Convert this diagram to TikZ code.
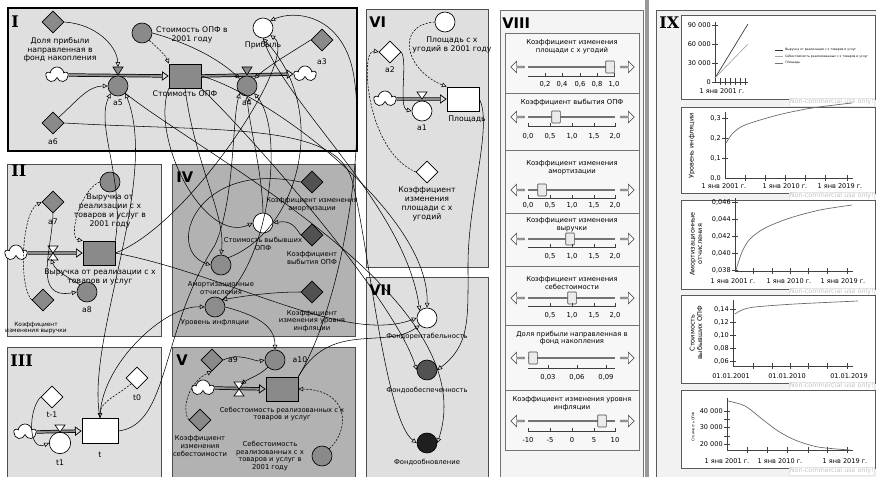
\documentclass[tikz,border=0pt]{standalone}
\usepackage{fontspec}
\setmainfont{DejaVu Sans}
\newfontfamily\romfont{DejaVu Serif}
\usetikzlibrary{arrows.meta,shapes.geometric,shapes.symbols,shapes.arrows}

\definecolor{panelbg}{RGB}{223,223,223}
\definecolor{paneldk}{RGB}{178,178,178}
\definecolor{auxgray}{RGB}{138,138,138}
\definecolor{auxdark}{RGB}{82,82,82}
\definecolor{ctrlbg}{RGB}{244,244,244}
\definecolor{wmark}{RGB}{195,195,195}

\tikzset{every picture/.style={line width=0.5pt}}
\tikzset{
  panel/.style={draw=black!70, fill=panelbg},
  numeral/.style={anchor=west, inner sep=0pt, font=\fontsize{11}{11}\selectfont\bfseries},
  romnum/.style={anchor=west, inner sep=0pt, font=\romfont\fontsize{12}{12}\selectfont\bfseries},
  txt/.style={font=\fontsize{5.8}{6.6}\selectfont, align=center, inner sep=0pt},
  txs/.style={font=\fontsize{5.1}{5.8}\selectfont, align=center, inner sep=0pt},
  tny/.style={font=\fontsize{4.4}{5}\selectfont, align=center, inner sep=0pt},
  axl/.style={font=\fontsize{4.9}{5.5}\selectfont, align=center, inner sep=0pt},
  auxv/.style={circle, draw, fill=auxgray, minimum size=15pt, inner sep=0pt},
  param/.style={diamond, draw, fill=auxgray, minimum size=16.5pt, inner sep=0pt},
  stock/.style={rectangle, draw, fill=auxgray, minimum width=24pt, minimum height=18pt, inner sep=0pt},
  srccloud/.style={cloud, cloud puffs=5, cloud puff arc=165, aspect=1.4, draw, fill=white, minimum width=16pt, minimum height=12pt, inner sep=0pt},
  pipe/.style={double=black!45, double distance=1.4pt, line width=0.55pt, -{Triangle[open,length=5pt,width=7pt]}},
  link/.style={-{Triangle[open,length=3.6pt,width=3.4pt]}, line width=0.4pt},
  dlink/.style={link, dash pattern={on 1.6pt off 1pt}},
  track/.style={line width=1.3pt, black!55},
  thumb/.style={draw=black!70, fill=black!8, minimum width=6.5pt, minimum height=9pt, inner sep=0pt, rounded corners=0.6pt},
  larr/.style={single arrow, draw=black!65, fill=white, minimum height=10pt, minimum width=8.5pt, single arrow head extend=1.6pt, inner sep=0pt, shape border rotate=180},
  rarr/.style={single arrow, draw=black!65, fill=white, minimum height=10pt, minimum width=8.5pt, single arrow head extend=1.6pt, inner sep=0pt},
  chartbox/.style={draw=black!65, fill=white},
  plotline/.style={line width=0.5pt, black!60},
  wm/.style={font=\fontsize{4.8}{5}\selectfont, text=wmark, fill=white, draw=black!10, inner sep=0.7pt, anchor=east}
}

\begin{document}
\begin{tikzpicture}[x=0.75pt,y=0.75pt,yscale=-1,xscale=1]
\useasboundingbox (0,0) rectangle (876,477);
\fill[white] (0,0) rectangle (876,477);

%Panels
\draw[panel, draw=black, line width=1pt] (8,8) rectangle (357,151);
\draw[panel] (7,164) rectangle (161,336);
\draw[panel] (7,347) rectangle (161,482);
\draw[panel, fill=paneldk] (172,164) rectangle (355,336);
\draw[panel, fill=paneldk] (172,347) rectangle (355,482);
\draw[panel] (366,9) rectangle (488,267);
\draw[panel] (366,277) rectangle (488,482);
\draw[draw=black!55, fill=ctrlbg] (500,10) rectangle (643,482);
\fill[black!40] (645,0) rectangle (649,477);
\draw[draw=black!65, fill=black!5] (656,10) rectangle (880,482);

\node[romnum] (nI) at (11,22) {I};
\node[romnum] (nII) at (11,171) {II};
\node[romnum] (nIII) at (10,361) {III};
\node[numeral] (nIV) at (176,177) {IV};
\node[numeral] (nV) at (176,360) {V};
\node[numeral] (nVI) at (369,22) {VI};
\node[numeral] (nVII) at (369,290) {VII};
\node[numeral] (nVIII) at (502,23) {VIII};
\node[romnum] (nIX) at (659,23) {IX};

%Panel I
\node[param] (dolya) at (53,22) {};
\node[txt] (dolyaT) at (60,50) {Доля прибыли\\направленная в\\фонд накопления};
\node[auxv] (opf01) at (142,33) {};
\node[txt] (opf01T) at (192,35) {Стоимость ОПФ в\\2001 году};
\node[auxv, fill=white] (profit) at (263,28) {};
\node[txt] (profitT) at (263,45) {Прибыль};
\node[param] (a3) at (322,40) {};
\node[txt] (a3T) at (322,62) {a3};
\node[srccloud] (cloudA) at (57,75) {};
\node[stock] (opf) at (185,76) {};
\node[txt] (opfT) at (185,94) {Стоимость ОПФ};
\node[srccloud] (cloudB) at (305,74) {};
\draw[pipe] (cloudA.east) -- (opf.west);
\draw[pipe] (opf.east) -- (cloudB.west);
\draw[fill=auxgray] (113,67) -- (123,67) -- (118,75) -- cycle;
\draw[fill=auxgray] (242,67) -- (252,67) -- (247,75) -- cycle;
\coordinate (v5) at (118,67);
\node[auxv] (a5) at (118,86) {};
\node[txt] (a5T) at (118,103) {a5};
\node[auxv] (a4) at (247,86) {};
\node[txt] (a4T) at (247,103) {a4};
\node[param] (a6) at (53,123) {};
\node[txt] (a6T) at (53,142) {a6};

%Panel II
\node[auxv] (vyr01) at (110,182) {};
\node[txt] (vyr01T) at (110,211) {Выручка от\\реализации с х\\товаров и услуг в\\2001 году};
\node[param] (a7) at (53,202) {};
\node[txt] (a7T) at (53,222) {a7};
\node[srccloud] (cloudE) at (16,253) {};
\node[stock] (vyr) at (99,253) {};
\draw[pipe] (cloudE.east) -- (vyr.west);
\draw[fill=white] (48,246) -- (58,246) -- (48,260) -- (58,260) -- cycle;
\coordinate (v2) at (51,259);
\node[txt] (vyrT) at (100,277) {Выручка от реализации с х\\товаров и услуг};
\node[auxv] (a8) at (87,292) {};
\node[txt] (a8T) at (87,310) {a8};
\node[param] (coefv) at (43,300) {};
\node[tny] (coefvT) at (36,328) {Коэффициент\\изменения выручки};

%Panel III
\node[param, fill=white] (tm1) at (52,397) {};
\node[txt] (tm1T) at (52,415) {t-1};
\node[param, fill=white] (t0) at (137,378) {};
\node[txt] (t0T) at (137,398) {t0};
\node[srccloud] (cloudD) at (25,432) {};
\node[stock, fill=white, minimum width=27pt, minimum height=19pt] (t) at (100,431) {};
\draw[pipe] (cloudD.east) -- (t.west);
\draw[fill=white] (55,425) -- (65,425) -- (60,432) -- cycle;
\node[auxv, fill=white, minimum size=16pt] (t1) at (60,443) {};
\node[txt] (t1T) at (60,463) {t1};
\node[txt] (tT) at (100,455) {t};

%Panel IV
\node[param, fill=auxdark] (ka) at (312,182) {};
\node[txs] (kaT) at (312,205) {Коэффициент изменения\\амортизации};
\node[auxv, fill=white] (asb) at (263,223) {};
\node[txs] (asbT) at (263,244) {Стоимость выбывших\\ОПФ};
\node[param, fill=auxdark] (kv) at (312,235) {};
\node[txs] (kvT) at (312,258) {Коэффициент\\выбытия ОПФ};
\node[auxv, fill=black!45] (am) at (221,265) {};
\node[txs] (amT) at (221,288) {Амортизационные\\отчисления};
\node[auxv, fill=black!45] (ur) at (215,307) {};
\node[txs] (urT) at (215,323) {Уровень инфляции};
\node[param, fill=auxdark] (ki) at (312,292) {};
\node[txs] (kiT) at (312,321) {Коэффициент\\изменения уровня\\инфляции};

%Panel V
\node[param] (a9) at (212,360) {};
\node[txt] (a9T) at (233,360) {a9};
\node[auxv] (a10) at (275,360) {};
\node[txt] (a10T) at (300,360) {a10};
\node[srccloud] (cloudF) at (203,388) {};
\node[stock] (seb) at (282,389) {};
\draw[pipe] (cloudF.east) -- (seb.west);
\draw[fill=white] (234,382) -- (244,382) -- (234,396) -- (244,396) -- cycle;
\coordinate (v10) at (241,384);
\node[txs] (sebT) at (282,414) {Себестоимость реализованных с х\\товаров и услуг};
\node[param] (ks) at (200,420) {};
\node[txs] (ksT) at (200,446) {Коэффициент\\изменения\\себестоимости};
\node[auxv] (seb01) at (322,456) {};
\node[txs] (seb01T) at (270,456) {Себестоимость\\реализованных с х\\товаров и услуг в\\2001 году};

%Panel VI
\node[auxv, fill=white] (plo01) at (445,22) {};
\node[txt] (plo01T) at (452,45) {Площадь с х\\угодий в 2001 году};
\node[param, fill=white] (a2) at (390,52) {};
\node[txt] (a2T) at (390,70) {a2};
\node[srccloud] (cloudC) at (385,99) {};
\node[stock, fill=white] (plo) at (463,99) {};
\draw[pipe] (cloudC.east) -- (plo.west);
\draw[fill=white] (417,92) -- (427,92) -- (422,99) -- cycle;
\node[auxv, fill=white] (a1) at (422,111) {};
\node[txt] (a1T) at (422,128) {a1};
\node[txt] (ploT) at (467,119) {Площадь};
\node[param, fill=white] (kp) at (427,172) {};
\node[txt] (kpT) at (427,204) {Коэффициент\\изменения\\площади с х\\угодий};

%Panel VII
\node[auxv, fill=white] (frent) at (427,318) {};
\node[txs] (frentT) at (427,337) {Фондорентабельность};
\node[auxv, fill=auxdark] (fobesp) at (427,370) {};
\node[txs] (fobespT) at (427,390) {Фондообеспеченность};
\node[auxv, fill=black!88] (fobn) at (427,443) {};
\node[txs] (fobnT) at (427,462) {Фондообновление};

%Links inside panels
\draw[link] (dolya.east) .. controls (95,24) and (117,45) .. (v5);
\draw[link] (a6.north east) .. controls (78,100) and (88,86) .. (a5.west);
\draw[dlink] (opf01.south east) .. controls (160,50) and (166,56) .. (opf.north west);
\draw[link] (opf01.east) .. controls (195,45) and (222,62) .. (a4.north west);
\draw[link] (a3.west) .. controls (292,52) and (268,66) .. (a4.north east);
\draw[dlink] (vyr01.west) .. controls (80,190) and (68,238) .. (vyr.north west);
\draw[dlink] (coefv.west) .. controls (18,285) and (22,212) .. (a7.west);
\draw[link] (a7.south) .. controls (52,250) and (32,300) .. (a8.west);
\draw[link] (a8.north west) .. controls (70,278) and (56,272) .. (v2);
\draw[link] (tm1.west) .. controls (28,410) and (28,452) .. (t1.west);
\draw[dlink] (t0.south west) .. controls (118,395) and (100,402) .. (t.north);
\draw[link] (ka.west) .. controls (195,160) and (165,250) .. (am.west);
\draw[link] (kv.west) .. controls (295,226) and (290,220) .. (asb.east);
\draw[link] (ki.west) .. controls (270,292) and (245,296) .. (ur.north east);
\draw[link] (a9.east) .. controls (240,352) and (255,362) .. (a10.west);
\draw[dlink] (ks.west) .. controls (180,405) and (192,380) .. (a9.south);
\draw[link] (a10.south west) .. controls (260,375) and (250,378) .. (v10);
\draw[dlink] (seb01.north east) .. controls (350,430) and (350,390) .. (seb.east);
\draw[dlink] (plo01.west) .. controls (395,25) and (405,70) .. (plo.north west);
\draw[dlink] (kp.west) .. controls (365,150) and (360,48) .. (a2.west);
\draw[link] (a2.east) .. controls (408,62) and (398,108) .. (a1.west);

%Links between panels
\draw[link] (vyr.east) .. controls (190,225) and (300,55) .. (profit.south east);
\draw[link] (vyr.north east) .. controls (125,180) and (95,125) .. (a5.south west);
\draw[link] (vyr.east) .. controls (230,275) and (345,345) .. (frent.west);
\draw[link] (seb.north east) .. controls (345,300) and (370,120) .. (350,60) .. controls (335,15) and (295,10) .. (profit.north east);
\draw[link] (seb.north east) .. controls (330,320) and (385,350) .. (frent.south west);
\draw[link] (profit.south) .. controls (285,105) and (405,205) .. (frent.north west);
\draw[link] (opf.east) .. controls (270,95) and (430,215) .. (frent.north);
\draw[link] (opf.south east) .. controls (255,140) and (395,300) .. (fobesp.west);
\draw[link] (plo.east) .. controls (493,125) and (468,200) .. (468,265) .. controls (468,320) and (470,345) .. (fobesp.east);
\draw[link] (a5.south east) .. controls (210,160) and (485,300) .. (fobn.east);
\draw[link] (a6.east) .. controls (220,132) and (335,122) .. (352,180) .. controls (368,240) and (385,420) .. (fobn.west);
\draw[link] (opf.south) .. controls (195,165) and (226,215) .. (am.north);
\draw[link] (opf.south west) .. controls (150,140) and (205,245) .. (asb.west);
\draw[link] (t.north) .. controls (100,365) and (165,305) .. (ur.west);
\draw[link] (t.east) .. controls (170,425) and (160,330) .. (215,245) .. controls (235,200) and (232,120) .. (a4.south west);
\draw[link] (t.north) .. controls (85,340) and (160,180) .. (a5.south east);
\draw[link] (ur.north east) .. controls (270,260) and (285,130) .. (a4.south east);
\draw[link] (asb.north) .. controls (262,170) and (250,130) .. (a4.south);
\draw[link] (am.north east) .. controls (300,230) and (330,110) .. (profit.south);
\draw[link] (ur.east) .. controls (255,315) and (275,325) .. (a10.north);

%Panel VIII sliders
\draw[draw=black!55, fill=white!97!black] (505,33) rectangle (639,450);
\draw[black!55] (505,93) -- (639,93) (505,150) -- (639,150) (505,213) -- (639,213) (505,266) -- (639,266) (505,325) -- (639,325) (505,390) -- (639,390);

% slider 1
\node[txs] (s1T) at (572,47) {Коэффициент изменения\\площади с х угодий};
\node[larr] (s1l) at (518,67) {};
\node[rarr] (s1r) at (627,67) {};
\draw[track] (528,67) -- (615,67);
\node[thumb] (s1b) at (610,67) {};
\draw[black!75] (528,76) -- (614,76) (545,73) -- (545,77) (562,73) -- (562,77) (580,73) -- (580,77) (597,73) -- (597,77) (614,73) -- (614,77);
\node[txs] (s1a) at (545,84) {0,2};
\node[txs] (s1b2) at (562,84) {0,4};
\node[txs] (s1c) at (580,84) {0,6};
\node[txs] (s1d) at (597,84) {0,8};
\node[txs] (s1e) at (614,84) {1,0};

% slider 2
\node[txs] (s2T) at (572,103) {Коэффициент выбытия ОПФ};
\node[larr] (s2l) at (518,117) {};
\node[rarr] (s2r) at (627,117) {};
\draw[track] (528,117) -- (615,117);
\node[thumb] (s2b) at (556,117) {};
\draw[black!75] (528,126) -- (615,126) (528,123) -- (528,127) (550,123) -- (550,127) (572,123) -- (572,127) (594,123) -- (594,127) (615,123) -- (615,127);
\node[txs] (s2a) at (528,136) {0,0};
\node[txs] (s2b2) at (550,136) {0,5};
\node[txs] (s2c) at (572,136) {1,0};
\node[txs] (s2d) at (594,136) {1,5};
\node[txs] (s2e) at (615,136) {2,0};

% slider 3
\node[txs] (s3T) at (572,168) {Коэффициент изменения\\амортизации};
\node[larr] (s3l) at (518,190) {};
\node[rarr] (s3r) at (627,190) {};
\draw[track] (528,190) -- (615,190);
\node[thumb] (s3b) at (542,190) {};
\draw[black!75] (528,198) -- (615,198) (528,195) -- (528,199) (550,195) -- (550,199) (572,195) -- (572,199) (594,195) -- (594,199) (615,195) -- (615,199);
\node[txs] (s3a) at (528,205) {0,0};
\node[txs] (s3b2) at (550,205) {0,5};
\node[txs] (s3c) at (572,205) {1,0};
\node[txs] (s3d) at (594,205) {1,5};
\node[txs] (s3e) at (615,205) {2,0};

% slider 4
\node[txs] (s4T) at (572,225) {Коэффициент изменения\\выручки};
\node[larr] (s4l) at (518,239) {};
\node[rarr] (s4r) at (627,239) {};
\draw[track] (528,239) -- (615,239);
\node[thumb] (s4b) at (570,239) {};
\draw[black!75] (528,247) -- (615,247) (550,244) -- (550,248) (572,244) -- (572,248) (594,244) -- (594,248) (615,244) -- (615,248);
\node[txs] (s4b2) at (550,256) {0,5};
\node[txs] (s4c) at (572,256) {1,0};
\node[txs] (s4d) at (594,256) {1,5};
\node[txs] (s4e) at (615,256) {2,0};

% slider 5
\node[txs] (s5T) at (572,283) {Коэффициент изменения\\себестоимости};
\node[larr] (s5l) at (518,298) {};
\node[rarr] (s5r) at (627,298) {};
\draw[track] (528,298) -- (615,298);
\node[thumb] (s5b) at (572,298) {};
\draw[black!75] (528,306) -- (615,306) (550,303) -- (550,307) (572,303) -- (572,307) (594,303) -- (594,307) (615,303) -- (615,307);
\node[txs] (s5b2) at (550,315) {0,5};
\node[txs] (s5c) at (572,315) {1,0};
\node[txs] (s5d) at (594,315) {1,5};
\node[txs] (s5e) at (615,315) {2,0};

% slider 6
\node[txs] (s6T) at (572,338) {Доля прибыли направленная в\\фонд накопления};
\node[larr] (s6l) at (518,358) {};
\node[rarr] (s6r) at (627,358) {};
\draw[track] (528,358) -- (615,358);
\node[thumb] (s6b) at (533,358) {};
\draw[black!75] (528,368) -- (615,368) (548,365) -- (548,369) (577,365) -- (577,369) (606,365) -- (606,369);
\node[txs] (s6a) at (548,377) {0,03};
\node[txs] (s6c) at (577,377) {0,06};
\node[txs] (s6e) at (606,377) {0,09};

% slider 7
\node[txs] (s7T) at (572,404) {Коэффициент изменения уровня\\инфляции};
\node[larr] (s7l) at (518,421) {};
\node[rarr] (s7r) at (627,421) {};
\draw[track] (528,421) -- (615,421);
\node[thumb] (s7b) at (602,421) {};
\draw[black!75] (528,431) -- (615,431) (528,428) -- (528,432) (550,428) -- (550,432) (572,428) -- (572,432) (594,428) -- (594,432) (615,428) -- (615,432);
\node[txs] (s7a) at (528,440) {-10};
\node[txs] (s7b2) at (550,440) {-5};
\node[txs] (s7c) at (572,440) {0};
\node[txs] (s7d) at (594,440) {5};
\node[txs] (s7e) at (615,440) {10};

%Panel IX charts
% chart 1
\draw[chartbox] (681,15) rectangle (875,99);
\draw[black!75] (715,22) -- (715,82) -- (748,82) (712,25) -- (718,25) (712,44) -- (718,44) (712,63) -- (718,63) (712,82) -- (718,82);
\draw[black!75] (720,78) -- (720,85) (725,78) -- (725,85) (730,78) -- (730,85) (735,78) -- (735,85) (740,78) -- (740,85) (745,78) -- (745,85);
\node[axl, anchor=east] (c1y1) at (711,25) {90 000};
\node[axl, anchor=east] (c1y2) at (711,44) {60 000};
\node[axl, anchor=east] (c1y3) at (711,63) {30 000};
\node[axl, anchor=east] (c1y4) at (711,82) {0};
\node[axl] (c1x1) at (722,91) {1 янв 2001 г.};
\draw[black!80] (715,78) -- (748,24);
\draw[black!35] (715,78) -- (748,44);
\draw[black!80] (775,50) -- (783,50);
\draw[black!35] (775,56.5) -- (783,56.5);
\draw[black!55] (775,63) -- (783,63);
\node[font=\fontsize{2.3}{2.5}\selectfont, anchor=west, inner sep=0pt] (c1l1) at (785,50) {Выручка от реализации с х товаров и услуг};
\node[font=\fontsize{2.3}{2.5}\selectfont, anchor=west, inner sep=0pt] (c1l2) at (785,56.5) {Себестоимость реализованных с х товаров и услуг};
\node[font=\fontsize{2.3}{2.5}\selectfont, anchor=west, inner sep=0pt] (c1l3) at (785,63) {Площадь};
\node[wm] (wm1) at (875,102) {Non-commercial use only!};

% chart 2
\draw[chartbox] (681,107) rectangle (875,193);
\draw[black!75] (725,112) -- (725,178) -- (853,178) (722,118) -- (728,118) (722,138) -- (728,138) (722,158) -- (728,158);
\draw[black!75] (745,175) -- (745,181) (765,175) -- (765,181) (785,175) -- (785,181) (805,175) -- (805,181) (825,175) -- (825,181) (847,175) -- (847,181);
\node[axl, anchor=east] (c2y1) at (721,118) {0,3};
\node[axl, anchor=east] (c2y2) at (721,138) {0,2};
\node[axl, anchor=east] (c2y3) at (721,158) {0,1};
\node[axl, anchor=east] (c2y4) at (721,178) {0,0};
\node[axl] (c2x1) at (724,186) {1 янв 2001 г.};
\node[axl] (c2x2) at (785,186) {1 янв 2010 г.};
\node[axl] (c2x3) at (840,186) {1 янв 2019 г.};
\node[axl, rotate=90] (c2lab) at (692,146) {Уровень инфляции};
\draw[plotline] plot[smooth] coordinates {(726,143) (733,133) (745,125) (778,115) (812,108) (852,103)};
\node[wm] (wm2) at (875,196) {Non-commercial use only!};

% chart 3
\draw[chartbox] (681,200) rectangle (875,289);
\draw[black!75] (735,198) -- (735,271) -- (853,271) (732,202) -- (738,202) (732,219) -- (738,219) (732,236) -- (738,236) (732,253) -- (738,253) (732,270) -- (738,270);
\draw[black!75] (753,268) -- (753,274) (772,268) -- (772,274) (790,268) -- (790,274) (808,268) -- (808,274) (827,268) -- (827,274) (847,268) -- (847,274);
\node[axl, anchor=east] (c3y1) at (731,202) {0,046};
\node[axl, anchor=east] (c3y2) at (731,219) {0,044};
\node[axl, anchor=east] (c3y3) at (731,236) {0,042};
\node[axl, anchor=east] (c3y4) at (731,253) {0,040};
\node[axl, anchor=east] (c3y5) at (731,270) {0,038};
\node[axl] (c3x1) at (733,281) {1 янв 2001 г.};
\node[axl] (c3x2) at (789,281) {1 янв 2010 г.};
\node[axl] (c3x3) at (843,281) {1 янв 2019 г.};
\node[axl, rotate=90] (c3lab) at (696,244) {Амортизационные\\отчисления};
\draw[plotline] plot[smooth] coordinates {(736,270) (742,252) (750,239) (765,228) (790,218) (820,210) (852,205)};
\node[wm] (wm3) at (875,292) {Non-commercial use only!};

% chart 4
\draw[chartbox] (681,295) rectangle (875,383);
\draw[black!75] (733,300) -- (733,366) -- (853,366) (730,309) -- (736,309) (730,322) -- (736,322) (730,335) -- (736,335) (730,348) -- (736,348) (730,361) -- (736,361);
\draw[black!75] (753,363) -- (753,369) (772,363) -- (772,369) (790,363) -- (790,369) (808,363) -- (808,369) (827,363) -- (827,369) (847,363) -- (847,369);
\node[axl, anchor=east] (c4y1) at (729,309) {0,14};
\node[axl, anchor=east] (c4y2) at (729,322) {0,12};
\node[axl, anchor=east] (c4y3) at (729,335) {0,10};
\node[axl, anchor=east] (c4y4) at (729,348) {0,08};
\node[axl, anchor=east] (c4y5) at (729,361) {0,06};
\node[axl] (c4x1) at (731,376) {01.01.2001};
\node[axl] (c4x2) at (787,376) {01.01.2010};
\node[axl] (c4x3) at (849,376) {01.01.2019};
\node[axl, rotate=90] (c4lab) at (696,333) {Стоимость\\выбывших ОПФ};
\draw[plotline] plot[smooth] coordinates {(735,314) (742,310) (755,307) (795,304) (858,301)};
\node[wm] (wm4) at (875,386) {Non-commercial use only!};

% chart 5
\draw[chartbox] (681,390) rectangle (875,468);
\draw[black!75] (727,398) -- (727,450) -- (853,450) (724,411) -- (730,411) (724,419) -- (730,419) (724,427) -- (730,427) (724,436) -- (730,436) (724,444) -- (730,444);
\draw[black!75] (747,447) -- (747,453) (767,447) -- (767,453) (787,447) -- (787,453) (808,447) -- (808,453) (827,447) -- (827,453) (847,447) -- (847,453);
\node[axl, anchor=east] (c5y1) at (723,411) {40 000};
\node[axl, anchor=east] (c5y2) at (723,427) {30 000};
\node[axl, anchor=east] (c5y3) at (723,444) {20 000};
\node[axl] (c5x1) at (727,461) {1 янв 2001 г.};
\node[axl] (c5x2) at (780,461) {1 янв 2010 г.};
\node[axl] (c5x3) at (845,461) {1 янв 2019 г.};
\node[font=\fontsize{2.6}{3}\selectfont, rotate=90, inner sep=0pt] (c5lab) at (693,427) {Стоимость ОПФ};
\draw[plotline] plot[smooth] coordinates {(728,401) (745,406) (762,419) (778,431) (795,440) (818,447) (850,450)};
\node[wm] (wm5) at (875,471) {Non-commercial use only!};

\end{tikzpicture}
\end{document}
